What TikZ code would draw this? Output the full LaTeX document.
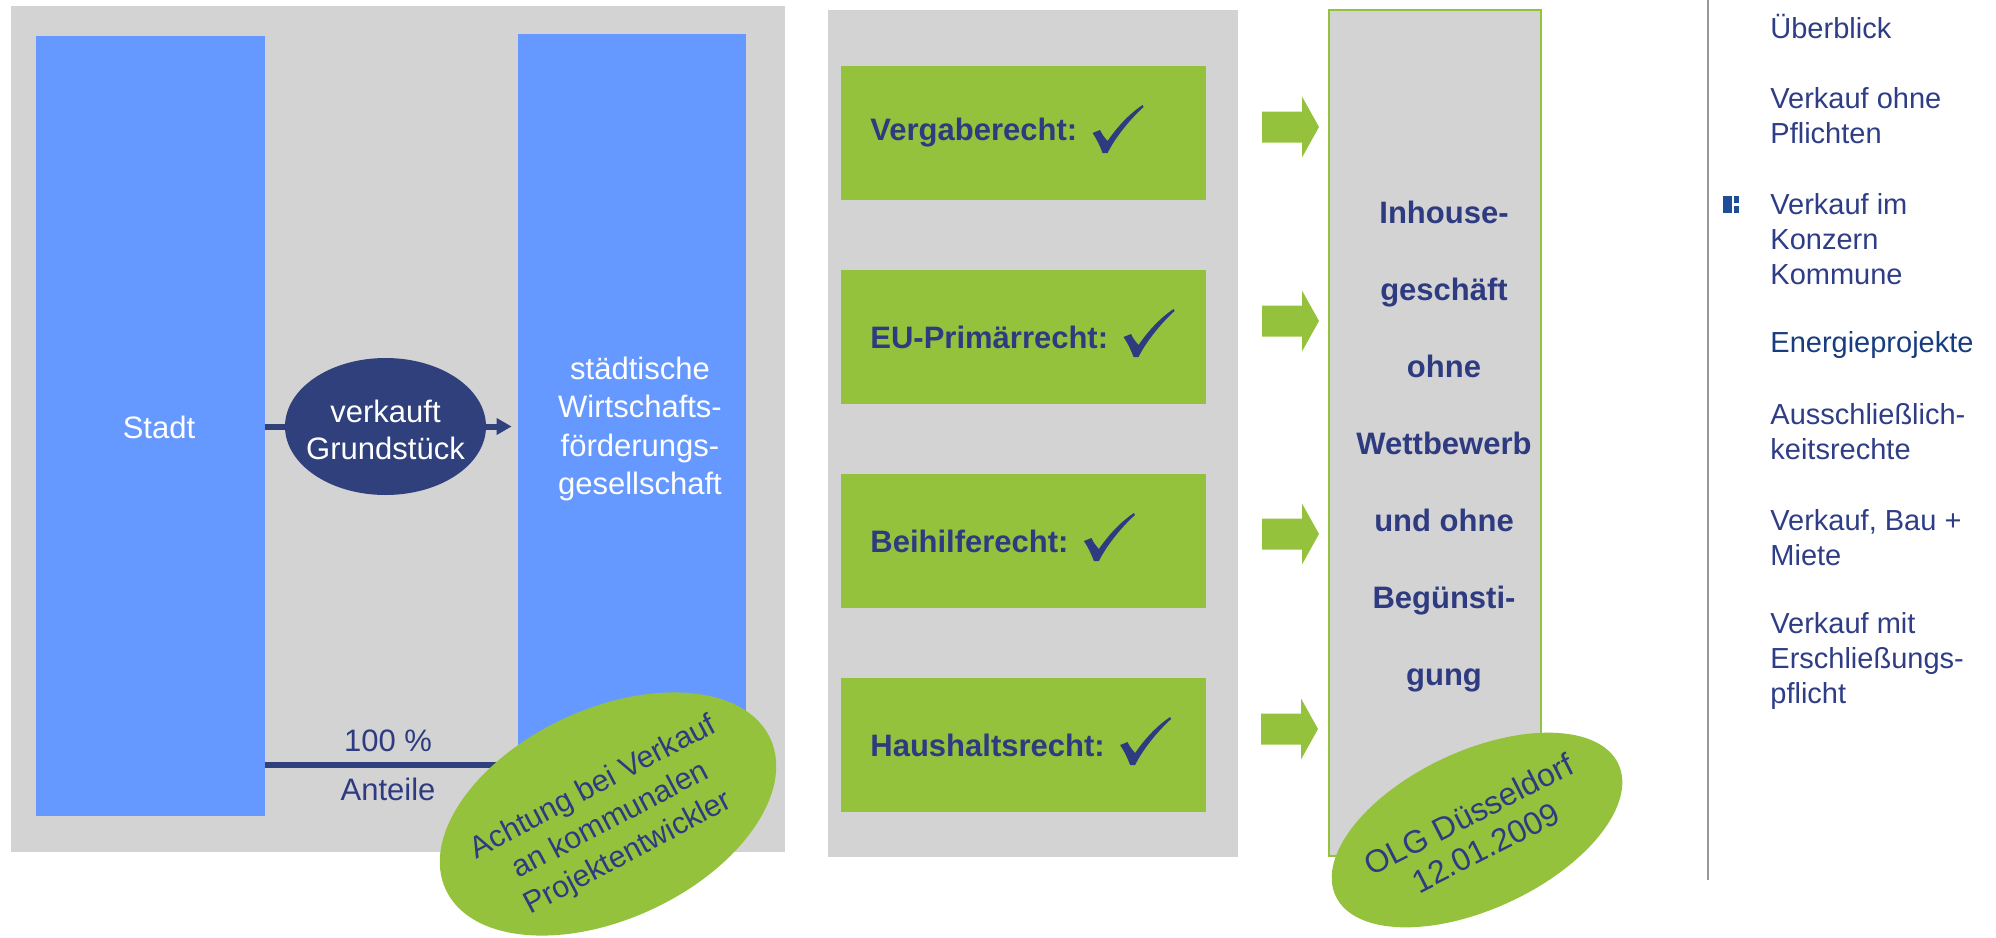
\documentclass[tikz,border=0pt]{standalone}
\usepackage{fontspec}
\setmainfont{Liberation Sans}
\usetikzlibrary{arrows.meta,shapes.geometric}
\definecolor{panelgrey}{HTML}{D3D3D3}
\definecolor{bluebox}{HTML}{6699FF}
\definecolor{navyell}{HTML}{30407D}
\definecolor{grn}{HTML}{95C23D}
\definecolor{textnavy}{HTML}{2E3B80}
\definecolor{menucol}{HTML}{2E3D85}
\definecolor{menudark}{HTML}{183C80}
\definecolor{vlinecol}{HTML}{999999}
\definecolor{iconcol}{HTML}{1F4E99}
\tikzset{
  panel/.style={fill=panelgrey, draw=none, inner sep=0pt},
  bluerect/.style={fill=bluebox, draw=none, inner sep=0pt},
  greenrect/.style={fill=grn, draw=none, inner sep=0pt},
  whitetext/.style={text=white, inner sep=0pt, align=center, font=\fontsize{15.5}{19.25}\selectfont},
  navytext/.style={text=textnavy, inner sep=0pt, align=center, font=\fontsize{15.5}{19}\selectfont},
  navyellipse/.style={ellipse, fill=navyell, draw=none, inner sep=0pt},
  greenellipse/.style={ellipse, fill=grn, draw=none, inner sep=0pt},
  elltext/.style={text=textnavy, inner sep=0pt, align=center, font=\fontsize{16}{18.5}\selectfont},
  boxtext/.style={text=textnavy, inner sep=0pt, anchor=west, font=\fontsize{15.5}{19}\selectfont\bfseries},
  conn/.style={draw=navyell, line width=3pt},
  rbox/.style={fill=panelgrey, draw=grn, line width=1pt, inner sep=0pt},
  menu/.style={anchor=west, align=left, inner sep=0pt, text=menucol, font=\fontsize{14.5}{17.5}\selectfont},
  vline/.style={draw=vlinecol, line width=1pt},
  chk/.pic={\fill[textnavy] (-12,-20) -- (-4.5,-23) .. controls (-2,-18) .. (3,-12)
     .. controls (14,-28) and (26,-40) .. (38,-48) -- (39,-46)
     .. controls (28,-36) and (12,-18) .. (3,0) -- (-2,0)
     .. controls (-5,-8) and (-8,-14) .. cycle;},
  barrow/.pic={\fill[grn] (-28.5,-15.5) -- (11.5,-15.5) -- (11.5,-30.5) -- (28.5,0)
     -- (11.5,30.5) -- (11.5,15.5) -- (-28.5,15.5) -- cycle;}
}
\begin{document}
\begin{tikzpicture}[x=0.5pt,y=-0.5pt]
\useasboundingbox (0,0) rectangle (1996,937);

% ---------- left panel ----------
\node[panel, minimum width=387pt, minimum height=423pt] (p1) at (398,429) {};
\node[bluerect, minimum width=114.5pt, minimum height=390pt] (stadt) at (150.5,426) {};
\node[whitetext] (stadtt) at (159,427) {Stadt};
\node[bluerect, minimum width=114pt, minimum height=391pt] (wfg) at (632,425) {};
\node[whitetext] (wfgt) at (640,429) {städtische\\Wirtschafts-\\förderungs-\\gesellschaft};
\node[navyellipse, minimum width=100.5pt, minimum height=68.5pt] (vk) at (385.5,426.5) {};
\node[whitetext, font=\fontsize{15.5}{18.5}\selectfont] (vkt) at (385.5,430) {verkauft\\Grundstück};
\draw[conn] (stadt.east |- vk) -- (vk.west);
\draw[conn, -{Triangle[length=7.5pt,width=8pt]}, shorten >=3pt] (vk.east) -- (wfg.west |- vk);

\coordinate (ly) at (0,765);
\draw[conn] (stadt.east |- ly) -- (wfg.west |- ly);
\node[navytext] (pct) at (388,741) {100 \%};
\node[navytext] (ant) at (388,789) {Anteile};

\node[greenellipse, rotate=25, minimum width=179pt, minimum height=105pt] (e1) at (608,814) {};
\node[elltext, rotate=28, font=\fontsize{15.25}{18.6}\selectfont] (e1t) at (611,821) {Achtung bei Verkauf\\an kommunalen\\Projektentwickler};

% ---------- middle panel ----------
\node[panel, minimum width=205pt, minimum height=423.5pt] (p2) at (1033,433.5) {};
\node[greenrect, minimum width=182.5pt, minimum height=67pt] (g1) at (1023.5,133) {};
\node[greenrect, minimum width=182.5pt, minimum height=67pt] (g2) at (1023.5,337) {};
\node[greenrect, minimum width=182.5pt, minimum height=67pt] (g3) at (1023.5,541) {};
\node[greenrect, minimum width=182.5pt, minimum height=67pt] (g4) at (1023.5,745) {};
\node[boxtext] (t1) at (870,133) {Vergaberecht:};
\node[boxtext] (t2) at (870,337) {EU-Primärrecht:};
\node[boxtext] (t3) at (870,541) {Beihilferecht:};
\node[boxtext] (t4) at (870,745) {Haushaltsrecht:};
\pic (c1) at ([shift={(27,20)}]t1.east) {chk};
\pic (c2) at ([shift={(27,20)}]t2.east) {chk};
\pic (c3) at ([shift={(27,20)}]t3.east) {chk};
\pic (c4) at ([shift={(27,20)}]t4.east) {chk};

\pic (a1) at (1290.5,127) {barrow};
\pic (a2) at (1290.5,321) {barrow};
\pic (a3) at (1290.5,534) {barrow};
\pic (a4) at (1289.5,729) {barrow};

% ---------- right box ----------
\node[rbox, minimum width=106pt, minimum height=423pt] (inh) at (1435,433) {};
\node[text=textnavy, inner sep=0pt, align=center, font=\fontsize{15.5}{38.5}\selectfont\bfseries] (inht) at (1444,447)
  {Inhouse-\\geschäft\\ohne\\Wettbewerb\\und ohne\\Begünsti-\\gung};

\node[greenellipse, rotate=25, minimum width=156pt, minimum height=79pt] (e2) at (1477,830) {};
\node[elltext, rotate=27] (e2t) at (1477,831) {OLG Düsseldorf\\12.01.2009};

% ---------- navigation column ----------
\coordinate (vt) at (1708,0);
\coordinate (vb) at (1708,880);
\draw[vline] (vt) -- (vb);
\fill[iconcol] (1723,196) rectangle (1732,213);
\fill[iconcol] (1734,196) rectangle (1739,203);
\fill[iconcol] (1734,206) rectangle (1739,213);

\node[menu] (m1) at (1770,27) {Überblick};
\node[menu] (m2) at (1770,116) {Verkauf ohne\\Pflichten};
\node[menu] (m3) at (1770,239.5) {Verkauf im\\Konzern\\Kommune};
\node[menu, text=menudark] (m4) at (1770,345) {Energieprojekte};
\node[menu] (m5) at (1770,431.5) {Ausschließlich-\\keitsrechte};
\node[menu] (m6) at (1770,538) {Verkauf, Bau +\\Miete};
\node[menu] (m7) at (1770,661) {Verkauf mit\\Erschließungs-\\pflicht};
\end{tikzpicture}
\end{document}
